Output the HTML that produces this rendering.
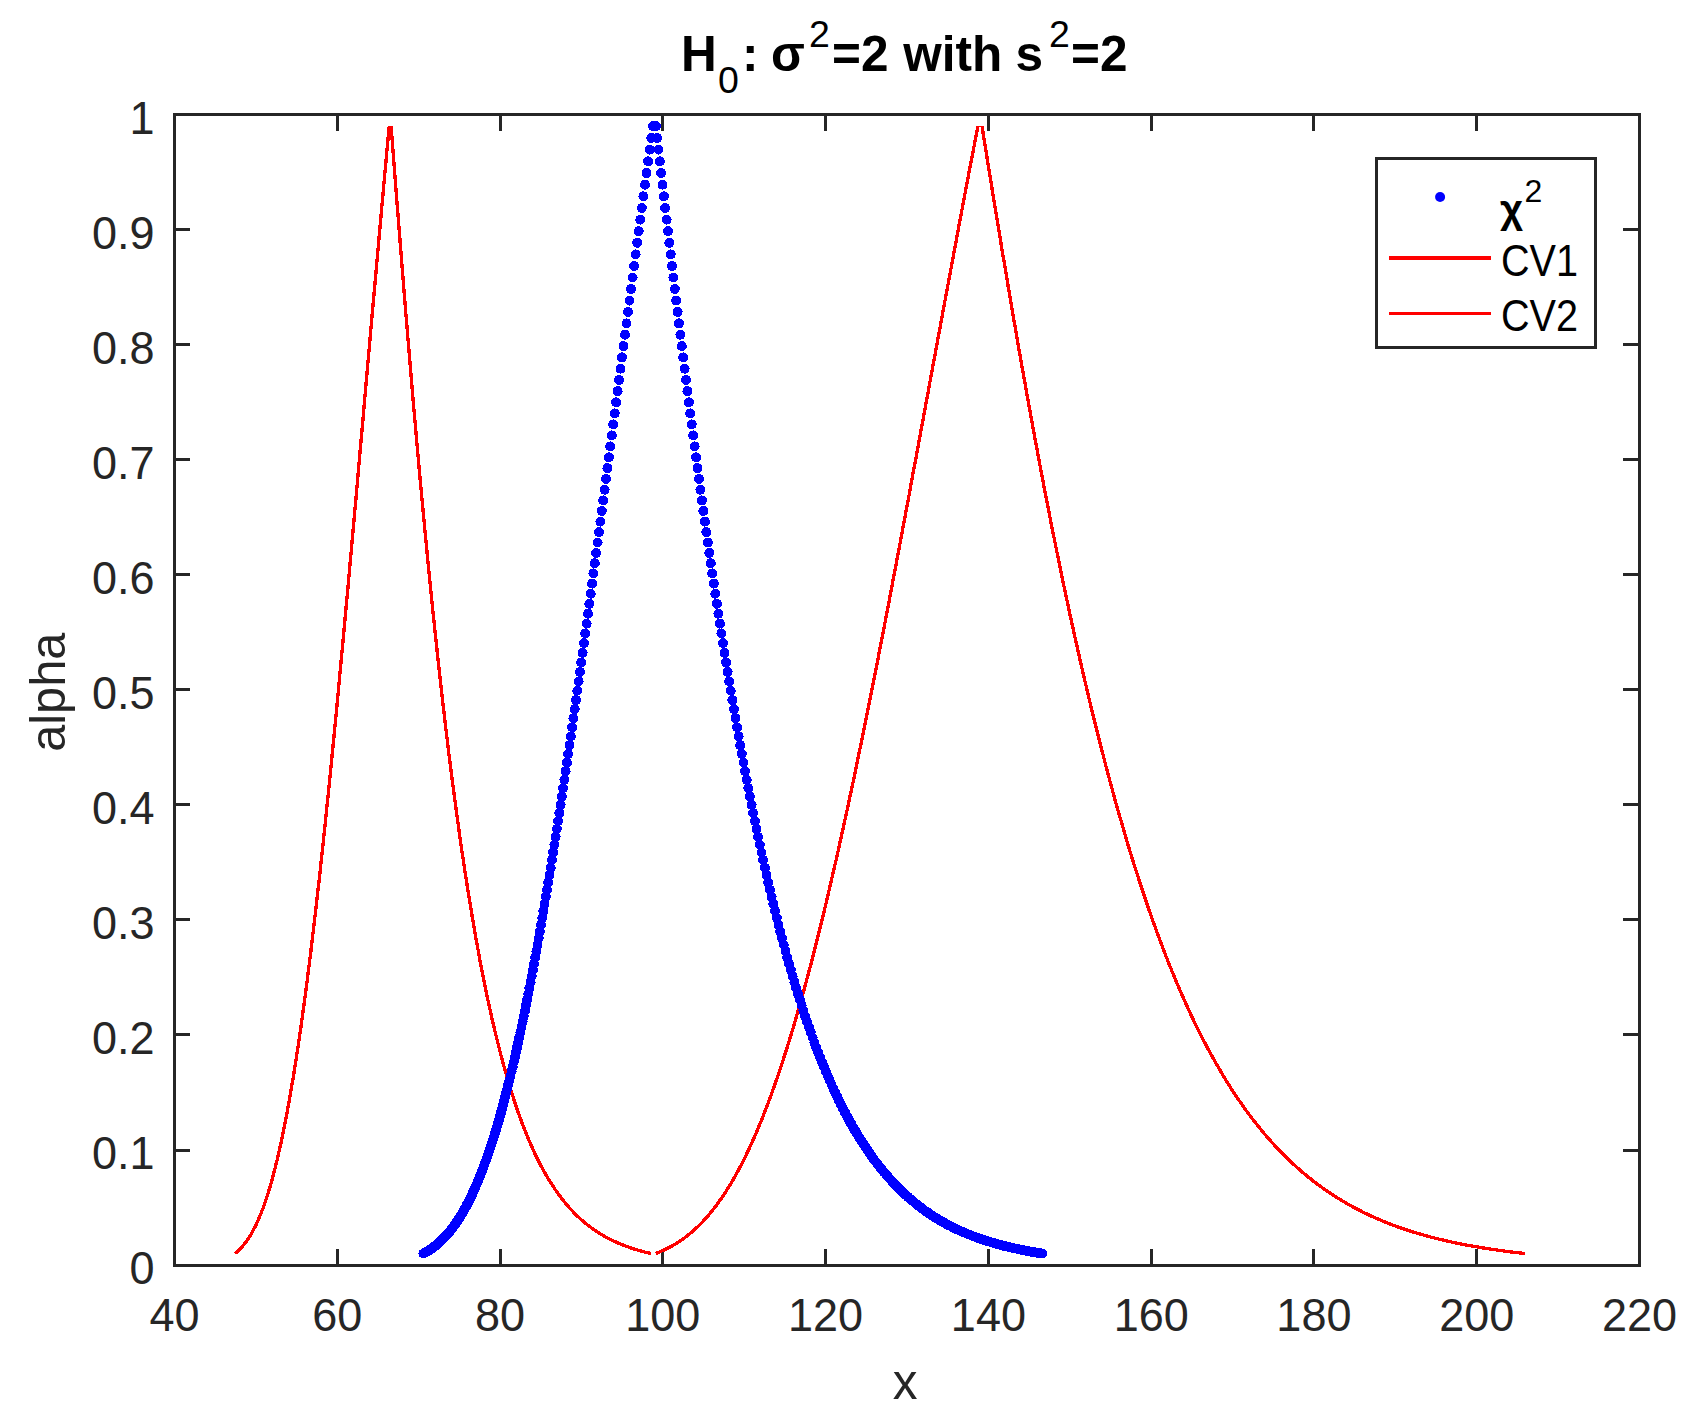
<!DOCTYPE html>
<html><head><meta charset="utf-8"><title>H0: sigma^2=2 with s^2=2</title>
<style>html,body{margin:0;padding:0;background:#fff}body{width:1694px;height:1427px;overflow:hidden}</style>
</head><body>
<svg width="1694" height="1427" viewBox="0 0 1694 1427" style="display:block">
<rect width="1694" height="1427" fill="#fff"/>
<g stroke="#262626" stroke-width="3" fill="none" shape-rendering="crispEdges">
<rect x="174.5" y="114.5" width="1465.0" height="1150.5"/>
<path d="M337.3,1265.0v-16.3M337.3,114.5v16.3M500.1,1265.0v-16.3M500.1,114.5v16.3M662.8,1265.0v-16.3M662.8,114.5v16.3M825.6,1265.0v-16.3M825.6,114.5v16.3M988.4,1265.0v-16.3M988.4,114.5v16.3M1151.2,1265.0v-16.3M1151.2,114.5v16.3M1313.9,1265.0v-16.3M1313.9,114.5v16.3M1476.7,1265.0v-16.3M1476.7,114.5v16.3M174.5,1150.0h15.5M1639.5,1150.0h-16.8M174.5,1034.9h15.5M1639.5,1034.9h-16.8M174.5,919.9h15.5M1639.5,919.9h-16.8M174.5,804.8h15.5M1639.5,804.8h-16.8M174.5,689.8h15.5M1639.5,689.8h-16.8M174.5,574.7h15.5M1639.5,574.7h-16.8M174.5,459.7h15.5M1639.5,459.7h-16.8M174.5,344.6h15.5M1639.5,344.6h-16.8M174.5,229.5h15.5M1639.5,229.5h-16.8"/>
</g>
<g fill="none" stroke="#ff0000" stroke-width="3.3" stroke-linejoin="round" shape-rendering="crispEdges">
<path d="M389.2,126.2 L388.1,137.9 L387.0,149.6 L386.0,161.3 L384.9,173.0 L383.8,184.7 L382.8,196.3 L381.7,208.0 L380.7,219.6 L379.6,231.2 L378.6,242.8 L377.6,254.4 L376.5,266.0 L375.5,277.5 L374.5,289.0 L373.4,300.5 L372.4,311.9 L371.4,323.4 L370.4,334.7 L369.4,346.1 L368.4,357.4 L367.4,368.7 L366.4,379.9 L365.4,391.1 L364.4,402.3 L363.5,413.4 L362.5,424.4 L361.5,435.4 L360.5,446.4 L359.6,457.3 L358.6,468.1 L357.7,478.9 L356.7,489.7 L355.8,500.4 L354.8,511.0 L353.9,521.6 L352.9,532.1 L352.0,542.5 L351.1,552.9 L350.1,563.2 L349.2,573.4 L348.3,583.6 L347.4,593.7 L346.4,603.8 L345.5,613.7 L344.6,623.6 L343.7,633.4 L342.8,643.2 L341.9,652.8 L341.0,662.4 L340.1,671.9 L339.2,681.4 L338.4,690.7 L337.5,700.0 L336.6,709.2 L335.7,718.3 L334.8,727.3 L334.0,736.3 L333.1,745.2 L332.2,753.9 L331.4,762.6 L330.5,771.2 L329.7,779.8 L328.8,788.2 L328.0,796.5 L327.1,804.8 L326.3,813.0 L325.5,821.0 L324.6,829.0 L323.8,836.9 L323.0,844.8 L322.1,852.5 L321.3,860.1 L320.5,867.7 L319.7,875.1 L318.9,882.5 L318.0,889.8 L317.2,896.9 L316.4,904.0 L315.6,911.0 L314.8,917.9 L314.0,924.8 L313.2,931.5 L312.4,938.1 L311.6,944.7 L310.9,951.1 L310.1,957.5 L309.3,963.8 L308.5,970.0 L307.7,976.1 L307.0,982.1 L306.2,988.0 L305.4,993.9 L304.7,999.6 L303.9,1005.3 L303.1,1010.9 L302.4,1016.4 L301.6,1021.8 L300.9,1027.1 L300.1,1032.3 L299.4,1037.5 L298.6,1042.5 L297.9,1047.5 L297.1,1052.4 L296.4,1057.2 L295.7,1062.0 L294.9,1066.6 L294.2,1071.2 L293.5,1075.7 L292.8,1080.1 L292.0,1084.4 L291.3,1088.7 L290.6,1092.9 L289.9,1097.0 L289.2,1101.0 L288.4,1105.0 L287.7,1108.9 L287.0,1112.7 L286.3,1116.4 L285.6,1120.1 L284.9,1123.7 L284.2,1127.2 L283.5,1130.6 L282.8,1134.0 L282.2,1137.4 L281.5,1140.6 L280.8,1143.8 L280.1,1146.9 L279.4,1150.0 L278.7,1153.0 L278.1,1155.9 L277.4,1158.8 L276.7,1161.6 L276.0,1164.3 L275.4,1167.0 L274.7,1169.6 L274.0,1172.2 L273.4,1174.7 L272.7,1177.2 L272.1,1179.6 L271.4,1182.0 L270.7,1184.3 L270.1,1186.5 L269.4,1188.7 L268.8,1190.8 L268.2,1192.9 L267.5,1195.0 L266.9,1197.0 L266.2,1198.9 L265.6,1200.8 L265.0,1202.7 L264.3,1204.5 L263.7,1206.3 L263.1,1208.0 L262.4,1209.7 L261.8,1211.3 L261.2,1212.9 L260.6,1214.5 L259.9,1216.0 L259.3,1217.5 L258.7,1218.9 L258.1,1220.3 L257.5,1221.7 L256.9,1223.0 L256.3,1224.3 L255.7,1225.6 L255.1,1226.8 L254.4,1228.0 L253.8,1229.2 L253.2,1230.3 L252.6,1231.4 L252.1,1232.5 L251.5,1233.5 L250.9,1234.5 L250.3,1235.5 L249.7,1236.5 L249.1,1237.4 L248.5,1238.3 L247.9,1239.2 L247.3,1240.0 L246.8,1240.8 L246.2,1241.6 L245.6,1242.4 L245.0,1243.2 L244.5,1243.9 L243.9,1244.6 L243.3,1245.3 L242.8,1246.0 L242.2,1246.6 L241.6,1247.3 L241.1,1247.9 L240.5,1248.5 L239.9,1249.1 L239.4,1249.6 L238.8,1250.2 L238.3,1250.7 L237.7,1251.2 L237.2,1251.7 L236.6,1252.2 L236.1,1252.6 L235.5,1253.1 L235.0,1253.5M391.2,126.2 L392.0,137.9 L392.9,149.6 L393.8,161.3 L394.7,173.0 L395.6,184.7 L396.5,196.3 L397.4,208.0 L398.4,219.6 L399.3,231.2 L400.2,242.8 L401.1,254.4 L402.0,266.0 L403.0,277.5 L403.9,289.0 L404.8,300.5 L405.7,311.9 L406.7,323.4 L407.6,334.7 L408.6,346.1 L409.5,357.4 L410.5,368.7 L411.4,379.9 L412.4,391.1 L413.3,402.3 L414.3,413.4 L415.3,424.4 L416.2,435.4 L417.2,446.4 L418.2,457.3 L419.1,468.1 L420.1,478.9 L421.1,489.7 L422.1,500.4 L423.1,511.0 L424.1,521.6 L425.1,532.1 L426.1,542.5 L427.1,552.9 L428.1,563.2 L429.1,573.4 L430.1,583.6 L431.1,593.7 L432.1,603.8 L433.2,613.7 L434.2,623.6 L435.2,633.4 L436.3,643.2 L437.3,652.8 L438.3,662.4 L439.4,671.9 L440.4,681.4 L441.5,690.7 L442.5,700.0 L443.6,709.2 L444.7,718.3 L445.7,727.3 L446.8,736.3 L447.9,745.2 L448.9,753.9 L450.0,762.6 L451.1,771.2 L452.2,779.8 L453.3,788.2 L454.4,796.5 L455.5,804.8 L456.6,813.0 L457.7,821.0 L458.8,829.0 L459.9,836.9 L461.0,844.8 L462.1,852.5 L463.3,860.1 L464.4,867.7 L465.5,875.1 L466.7,882.5 L467.8,889.8 L469.0,896.9 L470.1,904.0 L471.3,911.0 L472.4,917.9 L473.6,924.8 L474.7,931.5 L475.9,938.1 L477.1,944.7 L478.3,951.1 L479.4,957.5 L480.6,963.8 L481.8,970.0 L483.0,976.1 L484.2,982.1 L485.4,988.0 L486.6,993.9 L487.8,999.6 L489.1,1005.3 L490.3,1010.9 L491.5,1016.4 L492.7,1021.8 L494.0,1027.1 L495.2,1032.3 L496.5,1037.5 L497.7,1042.5 L499.0,1047.5 L500.2,1052.4 L501.5,1057.2 L502.7,1062.0 L504.0,1066.6 L505.3,1071.2 L506.6,1075.7 L507.9,1080.1 L509.2,1084.4 L510.4,1088.7 L511.7,1092.9 L513.1,1097.0 L514.4,1101.0 L515.7,1105.0 L517.0,1108.9 L518.3,1112.7 L519.7,1116.4 L521.0,1120.1 L522.3,1123.7 L523.7,1127.2 L525.0,1130.6 L526.4,1134.0 L527.7,1137.4 L529.1,1140.6 L530.5,1143.8 L531.9,1146.9 L533.2,1150.0 L534.6,1153.0 L536.0,1155.9 L537.4,1158.8 L538.8,1161.6 L540.2,1164.3 L541.6,1167.0 L543.1,1169.6 L544.5,1172.2 L545.9,1174.7 L547.4,1177.2 L548.8,1179.6 L550.3,1182.0 L551.7,1184.3 L553.2,1186.5 L554.6,1188.7 L556.1,1190.8 L557.6,1192.9 L559.1,1195.0 L560.6,1197.0 L562.0,1198.9 L563.6,1200.8 L565.1,1202.7 L566.6,1204.5 L568.1,1206.3 L569.6,1208.0 L571.1,1209.7 L572.7,1211.3 L574.2,1212.9 L575.8,1214.5 L577.3,1216.0 L578.9,1217.5 L580.5,1218.9 L582.0,1220.3 L583.6,1221.7 L585.2,1223.0 L586.8,1224.3 L588.4,1225.6 L590.0,1226.8 L591.6,1228.0 L593.3,1229.2 L594.9,1230.3 L596.5,1231.4 L598.2,1232.5 L599.8,1233.5 L601.5,1234.5 L603.2,1235.5 L604.8,1236.5 L606.5,1237.4 L608.2,1238.3 L609.9,1239.2 L611.6,1240.0 L613.3,1240.8 L615.0,1241.6 L616.7,1242.4 L618.5,1243.2 L620.2,1243.9 L621.9,1244.6 L623.7,1245.3 L625.5,1246.0 L627.2,1246.6 L629.0,1247.3 L630.8,1247.9 L632.6,1248.5 L634.4,1249.1 L636.2,1249.6 L638.0,1250.2 L639.8,1250.7 L641.6,1251.2 L643.5,1251.7 L645.3,1252.2 L647.2,1252.6 L649.1,1253.1 L650.9,1253.5"/>
<path d="M977.9,126.2 L975.7,137.9 L973.4,149.6 L971.2,161.3 L968.9,173.0 L966.7,184.7 L964.5,196.3 L962.3,208.0 L960.1,219.6 L957.9,231.2 L955.8,242.8 L953.6,254.4 L951.5,266.0 L949.3,277.5 L947.2,289.0 L945.0,300.5 L942.9,311.9 L940.8,323.4 L938.7,334.7 L936.6,346.1 L934.5,357.4 L932.4,368.7 L930.3,379.9 L928.3,391.1 L926.2,402.3 L924.2,413.4 L922.1,424.4 L920.1,435.4 L918.1,446.4 L916.1,457.3 L914.0,468.1 L912.0,478.9 L910.1,489.7 L908.1,500.4 L906.1,511.0 L904.1,521.6 L902.1,532.1 L900.2,542.5 L898.2,552.9 L896.3,563.2 L894.4,573.4 L892.4,583.6 L890.5,593.7 L888.6,603.8 L886.7,613.7 L884.8,623.6 L882.9,633.4 L881.0,643.2 L879.1,652.8 L877.3,662.4 L875.4,671.9 L873.5,681.4 L871.7,690.7 L869.9,700.0 L868.0,709.2 L866.2,718.3 L864.4,727.3 L862.5,736.3 L860.7,745.2 L858.9,753.9 L857.1,762.6 L855.3,771.2 L853.6,779.8 L851.8,788.2 L850.0,796.5 L848.2,804.8 L846.5,813.0 L844.7,821.0 L843.0,829.0 L841.2,836.9 L839.5,844.8 L837.8,852.5 L836.1,860.1 L834.3,867.7 L832.6,875.1 L830.9,882.5 L829.2,889.8 L827.5,896.9 L825.9,904.0 L824.2,911.0 L822.5,917.9 L820.8,924.8 L819.2,931.5 L817.5,938.1 L815.9,944.7 L814.2,951.1 L812.6,957.5 L811.0,963.8 L809.3,970.0 L807.7,976.1 L806.1,982.1 L804.5,988.0 L802.9,993.9 L801.3,999.6 L799.7,1005.3 L798.1,1010.9 L796.5,1016.4 L794.9,1021.8 L793.4,1027.1 L791.8,1032.3 L790.2,1037.5 L788.7,1042.5 L787.1,1047.5 L785.6,1052.4 L784.0,1057.2 L782.5,1062.0 L781.0,1066.6 L779.4,1071.2 L777.9,1075.7 L776.4,1080.1 L774.9,1084.4 L773.4,1088.7 L771.9,1092.9 L770.4,1097.0 L768.9,1101.0 L767.4,1105.0 L765.9,1108.9 L764.4,1112.7 L763.0,1116.4 L761.5,1120.1 L760.0,1123.7 L758.6,1127.2 L757.1,1130.6 L755.7,1134.0 L754.2,1137.4 L752.8,1140.6 L751.4,1143.8 L749.9,1146.9 L748.5,1150.0 L747.1,1153.0 L745.7,1155.9 L744.3,1158.8 L742.9,1161.6 L741.5,1164.3 L740.1,1167.0 L738.7,1169.6 L737.3,1172.2 L735.9,1174.7 L734.5,1177.2 L733.2,1179.6 L731.8,1182.0 L730.4,1184.3 L729.1,1186.5 L727.7,1188.7 L726.3,1190.8 L725.0,1192.9 L723.6,1195.0 L722.3,1197.0 L721.0,1198.9 L719.6,1200.8 L718.3,1202.7 L717.0,1204.5 L715.7,1206.3 L714.4,1208.0 L713.0,1209.7 L711.7,1211.3 L710.4,1212.9 L709.1,1214.5 L707.8,1216.0 L706.5,1217.5 L705.3,1218.9 L704.0,1220.3 L702.7,1221.7 L701.4,1223.0 L700.1,1224.3 L698.9,1225.6 L697.6,1226.8 L696.3,1228.0 L695.1,1229.2 L693.8,1230.3 L692.6,1231.4 L691.3,1232.5 L690.1,1233.5 L688.9,1234.5 L687.6,1235.5 L686.4,1236.5 L685.2,1237.4 L684.0,1238.3 L682.7,1239.2 L681.5,1240.0 L680.3,1240.8 L679.1,1241.6 L677.9,1242.4 L676.7,1243.2 L675.5,1243.9 L674.3,1244.6 L673.1,1245.3 L671.9,1246.0 L670.7,1246.6 L669.6,1247.3 L668.4,1247.9 L667.2,1248.5 L666.0,1249.1 L664.9,1249.6 L663.7,1250.2 L662.5,1250.7 L661.4,1251.2 L660.2,1251.7 L659.1,1252.2 L657.9,1252.6 L656.8,1253.1 L655.7,1253.5M982.0,126.2 L983.9,137.9 L985.8,149.6 L987.6,161.3 L989.5,173.0 L991.4,184.7 L993.3,196.3 L995.2,208.0 L997.1,219.6 L999.0,231.2 L1000.9,242.8 L1002.8,254.4 L1004.8,266.0 L1006.7,277.5 L1008.6,289.0 L1010.6,300.5 L1012.5,311.9 L1014.5,323.4 L1016.5,334.7 L1018.4,346.1 L1020.4,357.4 L1022.4,368.7 L1024.4,379.9 L1026.4,391.1 L1028.4,402.3 L1030.4,413.4 L1032.4,424.4 L1034.4,435.4 L1036.5,446.4 L1038.5,457.3 L1040.5,468.1 L1042.6,478.9 L1044.6,489.7 L1046.7,500.4 L1048.8,511.0 L1050.8,521.6 L1052.9,532.1 L1055.0,542.5 L1057.1,552.9 L1059.2,563.2 L1061.3,573.4 L1063.4,583.6 L1065.6,593.7 L1067.7,603.8 L1069.8,613.7 L1072.0,623.6 L1074.1,633.4 L1076.3,643.2 L1078.5,652.8 L1080.6,662.4 L1082.8,671.9 L1085.0,681.4 L1087.2,690.7 L1089.4,700.0 L1091.6,709.2 L1093.8,718.3 L1096.1,727.3 L1098.3,736.3 L1100.5,745.2 L1102.8,753.9 L1105.0,762.6 L1107.3,771.2 L1109.6,779.8 L1111.9,788.2 L1114.1,796.5 L1116.4,804.8 L1118.7,813.0 L1121.1,821.0 L1123.4,829.0 L1125.7,836.9 L1128.0,844.8 L1130.4,852.5 L1132.7,860.1 L1135.1,867.7 L1137.5,875.1 L1139.8,882.5 L1142.2,889.8 L1144.6,896.9 L1147.0,904.0 L1149.4,911.0 L1151.8,917.9 L1154.3,924.8 L1156.7,931.5 L1159.2,938.1 L1161.6,944.7 L1164.1,951.1 L1166.5,957.5 L1169.0,963.8 L1171.5,970.0 L1174.0,976.1 L1176.5,982.1 L1179.0,988.0 L1181.6,993.9 L1184.1,999.6 L1186.6,1005.3 L1189.2,1010.9 L1191.7,1016.4 L1194.3,1021.8 L1196.9,1027.1 L1199.5,1032.3 L1202.1,1037.5 L1204.7,1042.5 L1207.3,1047.5 L1209.9,1052.4 L1212.6,1057.2 L1215.2,1062.0 L1217.9,1066.6 L1220.6,1071.2 L1223.2,1075.7 L1225.9,1080.1 L1228.6,1084.4 L1231.3,1088.7 L1234.0,1092.9 L1236.8,1097.0 L1239.5,1101.0 L1242.3,1105.0 L1245.0,1108.9 L1247.8,1112.7 L1250.6,1116.4 L1253.4,1120.1 L1256.2,1123.7 L1259.0,1127.2 L1261.8,1130.6 L1264.6,1134.0 L1267.5,1137.4 L1270.3,1140.6 L1273.2,1143.8 L1276.1,1146.9 L1279.0,1150.0 L1281.9,1153.0 L1284.8,1155.9 L1287.7,1158.8 L1290.6,1161.6 L1293.6,1164.3 L1296.5,1167.0 L1299.5,1169.6 L1302.5,1172.2 L1305.5,1174.7 L1308.5,1177.2 L1311.5,1179.6 L1314.5,1182.0 L1317.5,1184.3 L1320.6,1186.5 L1323.7,1188.7 L1326.7,1190.8 L1329.8,1192.9 L1332.9,1195.0 L1336.0,1197.0 L1339.2,1198.9 L1342.3,1200.8 L1345.4,1202.7 L1348.6,1204.5 L1351.8,1206.3 L1355.0,1208.0 L1358.2,1209.7 L1361.4,1211.3 L1364.6,1212.9 L1367.9,1214.5 L1371.1,1216.0 L1374.4,1217.5 L1377.7,1218.9 L1381.0,1220.3 L1384.3,1221.7 L1387.6,1223.0 L1390.9,1224.3 L1394.3,1225.6 L1397.6,1226.8 L1401.0,1228.0 L1404.4,1229.2 L1407.8,1230.3 L1411.2,1231.4 L1414.7,1232.5 L1418.1,1233.5 L1421.6,1234.5 L1425.1,1235.5 L1428.6,1236.5 L1432.1,1237.4 L1435.6,1238.3 L1439.1,1239.2 L1442.7,1240.0 L1446.2,1240.8 L1449.8,1241.6 L1453.4,1242.4 L1457.0,1243.2 L1460.7,1243.9 L1464.3,1244.6 L1468.0,1245.3 L1471.7,1246.0 L1475.4,1246.6 L1479.1,1247.3 L1482.8,1247.9 L1486.5,1248.5 L1490.3,1249.1 L1494.1,1249.6 L1497.9,1250.2 L1501.7,1250.7 L1505.5,1251.2 L1509.3,1251.7 L1513.2,1252.2 L1517.1,1252.6 L1521.0,1253.1 L1524.9,1253.5"/>
</g>
<path d="M652.9,126.2h0M655.9,126.2h0M651.3,137.9h0M657.2,137.9h0M649.7,149.6h0M658.5,149.6h0M648.1,161.3h0M659.8,161.3h0M646.5,173.0h0M661.2,173.0h0M645.0,184.7h0M662.5,184.7h0M643.4,196.3h0M663.9,196.3h0M641.8,208.0h0M665.2,208.0h0M640.3,219.6h0M666.6,219.6h0M638.7,231.2h0M667.9,231.2h0M637.2,242.8h0M669.3,242.8h0M635.6,254.4h0M670.7,254.4h0M634.1,266.0h0M672.0,266.0h0M632.6,277.5h0M673.4,277.5h0M631.0,289.0h0M674.8,289.0h0M629.5,300.5h0M676.2,300.5h0M628.0,311.9h0M677.6,311.9h0M626.5,323.4h0M679.0,323.4h0M625.0,334.7h0M680.4,334.7h0M623.5,346.1h0M681.8,346.1h0M622.0,357.4h0M683.2,357.4h0M620.5,368.7h0M684.6,368.7h0M619.1,379.9h0M686.0,379.9h0M617.6,391.1h0M687.4,391.1h0M616.1,402.3h0M688.9,402.3h0M614.7,413.4h0M690.3,413.4h0M613.2,424.4h0M691.7,424.4h0M611.8,435.4h0M693.2,435.4h0M610.3,446.4h0M694.6,446.4h0M608.9,457.3h0M696.1,457.3h0M607.4,468.1h0M697.5,468.1h0M606.0,478.9h0M699.0,478.9h0M604.6,489.7h0M700.4,489.7h0M603.2,500.4h0M701.9,500.4h0M601.8,511.0h0M703.4,511.0h0M600.4,521.6h0M704.9,521.6h0M599.0,532.1h0M706.3,532.1h0M597.6,542.5h0M707.8,542.5h0M596.2,552.9h0M709.3,552.9h0M594.8,563.2h0M710.8,563.2h0M593.4,573.4h0M712.3,573.4h0M592.1,583.6h0M713.8,583.6h0M590.7,593.7h0M715.3,593.7h0M589.3,603.8h0M716.9,603.8h0M588.0,613.7h0M718.4,613.7h0M586.6,623.6h0M719.9,623.6h0M585.3,633.4h0M721.4,633.4h0M583.9,643.2h0M723.0,643.2h0M582.6,652.8h0M724.5,652.8h0M581.3,662.4h0M726.1,662.4h0M579.9,671.9h0M727.6,671.9h0M578.6,681.4h0M729.2,681.4h0M577.3,690.7h0M730.7,690.7h0M576.0,700.0h0M732.3,700.0h0M574.7,709.2h0M733.9,709.2h0M573.4,718.3h0M735.5,718.3h0M572.1,727.3h0M737.1,727.3h0M570.8,736.3h0M738.6,736.3h0M569.5,745.2h0M740.2,745.2h0M568.2,753.9h0M741.8,753.9h0M566.9,762.6h0M743.5,762.6h0M565.6,771.2h0M745.1,771.2h0M564.4,779.8h0M746.7,779.8h0M563.1,788.2h0M748.3,788.2h0M561.8,796.5h0M749.9,796.5h0M560.6,804.8h0M751.6,804.8h0M559.3,813.0h0M753.2,813.0h0M558.1,821.0h0M754.9,821.0h0M556.8,829.0h0M756.5,829.0h0M555.6,836.9h0M758.2,836.9h0M554.4,844.8h0M759.8,844.8h0M553.1,852.5h0M761.5,852.5h0M551.9,860.1h0M763.2,860.1h0M550.7,867.7h0M764.9,867.7h0M549.5,875.1h0M766.5,875.1h0M548.3,882.5h0M768.2,882.5h0M547.0,889.8h0M769.9,889.8h0M545.8,896.9h0M771.6,896.9h0M544.6,904.0h0M773.3,904.0h0M543.4,911.0h0M775.1,911.0h0M542.3,917.9h0M776.8,917.9h0M541.1,924.8h0M778.5,924.8h0M539.9,931.5h0M780.3,931.5h0M538.7,938.1h0M782.0,938.1h0M537.5,944.7h0M783.7,944.7h0M536.4,951.1h0M785.5,951.1h0M535.2,957.5h0M787.3,957.5h0M534.0,963.8h0M789.0,963.8h0M532.9,970.0h0M790.8,970.0h0M531.7,976.1h0M792.6,976.1h0M530.6,982.1h0M794.4,982.1h0M529.4,988.0h0M796.1,988.0h0M528.3,993.9h0M797.9,993.9h0M527.1,999.6h0M799.8,999.6h0M526.0,1005.3h0M801.6,1005.3h0M524.9,1010.9h0M803.4,1010.9h0M523.7,1016.4h0M805.2,1016.4h0M522.6,1021.8h0M807.0,1021.8h0M521.5,1027.1h0M808.9,1027.1h0M520.4,1032.3h0M810.7,1032.3h0M519.3,1037.5h0M812.6,1037.5h0M518.2,1042.5h0M814.4,1042.5h0M517.0,1047.5h0M816.3,1047.5h0M515.9,1052.4h0M818.2,1052.4h0M514.9,1057.2h0M820.0,1057.2h0M513.8,1062.0h0M821.9,1062.0h0M512.7,1066.6h0M823.8,1066.6h0M511.6,1071.2h0M825.7,1071.2h0M510.5,1075.7h0M827.6,1075.7h0M509.4,1080.1h0M829.5,1080.1h0M508.3,1084.4h0M831.5,1084.4h0M507.3,1088.7h0M833.4,1088.7h0M506.2,1092.9h0M835.3,1092.9h0M505.1,1097.0h0M837.3,1097.0h0M504.1,1101.0h0M839.2,1101.0h0M503.0,1105.0h0M841.2,1105.0h0M502.0,1108.9h0M843.1,1108.9h0M500.9,1112.7h0M845.1,1112.7h0M499.9,1116.4h0M847.1,1116.4h0M498.8,1120.1h0M849.1,1120.1h0M497.8,1123.7h0M851.1,1123.7h0M496.7,1127.2h0M853.1,1127.2h0M495.7,1130.6h0M855.1,1130.6h0M494.7,1134.0h0M857.1,1134.0h0M493.6,1137.4h0M859.1,1137.4h0M492.6,1140.6h0M861.2,1140.6h0M491.6,1143.8h0M863.2,1143.8h0M490.6,1146.9h0M865.3,1146.9h0M489.6,1150.0h0M867.3,1150.0h0M488.6,1153.0h0M869.4,1153.0h0M487.5,1155.9h0M871.4,1155.9h0M486.5,1158.8h0M873.5,1158.8h0M485.5,1161.6h0M875.6,1161.6h0M484.5,1164.3h0M877.7,1164.3h0M483.6,1167.0h0M879.8,1167.0h0M482.6,1169.6h0M881.9,1169.6h0M481.6,1172.2h0M884.1,1172.2h0M480.6,1174.7h0M886.2,1174.7h0M479.6,1177.2h0M888.3,1177.2h0M478.6,1179.6h0M890.5,1179.6h0M477.6,1182.0h0M892.6,1182.0h0M476.7,1184.3h0M894.8,1184.3h0M475.7,1186.5h0M897.0,1186.5h0M474.7,1188.7h0M899.1,1188.7h0M473.8,1190.8h0M901.3,1190.8h0M472.8,1192.9h0M903.5,1192.9h0M471.9,1195.0h0M905.7,1195.0h0M470.9,1197.0h0M908.0,1197.0h0M469.9,1198.9h0M910.2,1198.9h0M469.0,1200.8h0M912.4,1200.8h0M468.1,1202.7h0M914.7,1202.7h0M467.1,1204.5h0M916.9,1204.5h0M466.2,1206.3h0M919.2,1206.3h0M465.2,1208.0h0M921.4,1208.0h0M464.3,1209.7h0M923.7,1209.7h0M463.4,1211.3h0M926.0,1211.3h0M462.4,1212.9h0M928.3,1212.9h0M461.5,1214.5h0M930.6,1214.5h0M460.6,1216.0h0M932.9,1216.0h0M459.7,1217.5h0M935.3,1217.5h0M458.8,1218.9h0M937.6,1218.9h0M457.8,1220.3h0M939.9,1220.3h0M456.9,1221.7h0M942.3,1221.7h0M456.0,1223.0h0M944.7,1223.0h0M455.1,1224.3h0M947.0,1224.3h0M454.2,1225.6h0M949.4,1225.6h0M453.3,1226.8h0M951.8,1226.8h0M452.4,1228.0h0M954.2,1228.0h0M451.5,1229.2h0M956.6,1229.2h0M450.6,1230.3h0M959.1,1230.3h0M449.7,1231.4h0M961.5,1231.4h0M448.8,1232.5h0M964.0,1232.5h0M448.0,1233.5h0M966.4,1233.5h0M447.1,1234.5h0M968.9,1234.5h0M446.2,1235.5h0M971.4,1235.5h0M445.3,1236.5h0M973.8,1236.5h0M444.5,1237.4h0M976.3,1237.4h0M443.6,1238.3h0M978.8,1238.3h0M442.7,1239.2h0M981.4,1239.2h0M441.8,1240.0h0M983.9,1240.0h0M441.0,1240.8h0M986.4,1240.8h0M440.1,1241.6h0M989.0,1241.6h0M439.3,1242.4h0M991.6,1242.4h0M438.4,1243.2h0M994.1,1243.2h0M437.6,1243.9h0M996.7,1243.9h0M436.7,1244.6h0M999.3,1244.6h0M435.9,1245.3h0M1001.9,1245.3h0M435.0,1246.0h0M1004.5,1246.0h0M434.2,1246.6h0M1007.2,1246.6h0M433.3,1247.3h0M1009.8,1247.3h0M432.5,1247.9h0M1012.5,1247.9h0M431.7,1248.5h0M1015.1,1248.5h0M430.8,1249.1h0M1017.8,1249.1h0M430.0,1249.6h0M1020.5,1249.6h0M429.2,1250.2h0M1023.2,1250.2h0M428.3,1250.7h0M1025.9,1250.7h0M427.5,1251.2h0M1028.6,1251.2h0M426.7,1251.7h0M1031.4,1251.7h0M425.9,1252.2h0M1034.1,1252.2h0M425.1,1252.6h0M1036.9,1252.6h0M424.2,1253.1h0M1039.7,1253.1h0M423.4,1253.5h0M1042.4,1253.5h0" fill="none" stroke="#0000ff" stroke-width="10" stroke-linecap="round" shape-rendering="crispEdges"/>
<g font-family="'Liberation Sans', Arial, Helvetica, sans-serif" font-size="46.8" fill="#262626">
<text transform="translate(174.5,1331.2) scale(0.962,1)" text-anchor="middle">40</text>
<text transform="translate(337.3,1331.2) scale(0.962,1)" text-anchor="middle">60</text>
<text transform="translate(500.1,1331.2) scale(0.962,1)" text-anchor="middle">80</text>
<text transform="translate(662.8,1331.2) scale(0.962,1)" text-anchor="middle">100</text>
<text transform="translate(825.6,1331.2) scale(0.962,1)" text-anchor="middle">120</text>
<text transform="translate(988.4,1331.2) scale(0.962,1)" text-anchor="middle">140</text>
<text transform="translate(1151.2,1331.2) scale(0.962,1)" text-anchor="middle">160</text>
<text transform="translate(1313.9,1331.2) scale(0.962,1)" text-anchor="middle">180</text>
<text transform="translate(1476.7,1331.2) scale(0.962,1)" text-anchor="middle">200</text>
<text transform="translate(1639.5,1331.2) scale(0.962,1)" text-anchor="middle">220</text>
<text transform="translate(154.5,1284.3) scale(0.962,1)" text-anchor="end">0</text>
<text transform="translate(154.5,1169.2) scale(0.962,1)" text-anchor="end">0.1</text>
<text transform="translate(154.5,1054.2) scale(0.962,1)" text-anchor="end">0.2</text>
<text transform="translate(154.5,939.1) scale(0.962,1)" text-anchor="end">0.3</text>
<text transform="translate(154.5,824.1) scale(0.962,1)" text-anchor="end">0.4</text>
<text transform="translate(154.5,709.0) scale(0.962,1)" text-anchor="end">0.5</text>
<text transform="translate(154.5,594.0) scale(0.962,1)" text-anchor="end">0.6</text>
<text transform="translate(154.5,479.0) scale(0.962,1)" text-anchor="end">0.7</text>
<text transform="translate(154.5,363.9) scale(0.962,1)" text-anchor="end">0.8</text>
<text transform="translate(154.5,248.8) scale(0.962,1)" text-anchor="end">0.9</text>
<text transform="translate(154.5,133.8) scale(0.962,1)" text-anchor="end">1</text>
</g>
<g font-family="'Liberation Sans', Arial, Helvetica, sans-serif" font-size="49.5" fill="#262626">
<text x="905" y="1399" text-anchor="middle">x</text>
<text transform="translate(64.8,692.2) rotate(-90) scale(0.985,1)" text-anchor="middle">alpha</text>
</g>
<g font-family="'Liberation Sans', Arial, Helvetica, sans-serif" font-weight="bold" font-size="49.5" fill="#000">
<text><tspan x="681" y="70.9">H</tspan><tspan x="718" y="93.3" font-weight="normal" font-size="37.5">0</tspan><tspan x="742" y="70.9">: </tspan><tspan x="771" y="70.9">σ</tspan><tspan x="809" y="47" font-weight="normal" font-size="37.5">2</tspan><tspan x="832" y="70.9">=2 </tspan><tspan x="903.3" y="70.9">with </tspan><tspan x="1015.5" y="70.9">s</tspan><tspan x="1049" y="47" font-weight="normal" font-size="37.5">2</tspan><tspan x="1071" y="70.9">=2</tspan></text>
</g>
<rect x="1376.5" y="158.6" width="219.2" height="188.9" fill="#fff" stroke="#262626" stroke-width="3" shape-rendering="crispEdges"/>
<circle cx="1440.1" cy="197" r="5" fill="#0000ff"/>
<path d="M1389,258H1491" stroke="#ff0000" stroke-width="4" shape-rendering="crispEdges"/>
<path d="M1389,313.5H1491" stroke="#ff0000" stroke-width="3" shape-rendering="crispEdges"/>
<g font-family="'Liberation Sans', Arial, Helvetica, sans-serif" font-size="40.5" fill="#000">
<text><tspan x="1500" y="223" font-weight="bold" font-size="40">χ</tspan><tspan x="1524.5" y="202" font-size="32">2</tspan></text>
<text transform="translate(1501,275.5) scale(0.89,1)" font-size="44.5">CV1</text>
<text transform="translate(1501,331.3) scale(0.89,1)" font-size="44.5">CV2</text>
</g>
</svg>
</body></html>
